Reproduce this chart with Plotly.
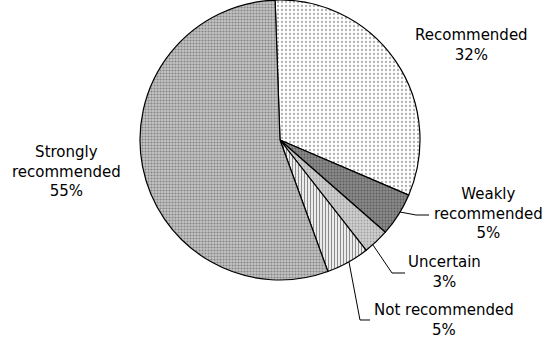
import plotly.graph_objects as go

# ---- data ----
categories = ["Recommended", "Weakly recommended", "Uncertain", "Not recommended", "Strongly recommended"]
values = [32, 5, 3, 5, 55]
label_text = ["Recommended<br>32%", "Weakly<br>recommended<br>5%", "Uncertain<br>3%",
              "Not recommended<br>5%", "Strongly<br>recommended<br>55%"]

# ---- styles ----
W, H = 546, 339
bg_colors = ["#ffffff", "#8a8a8a", "#cfcfcf", "#ffffff", "#c4c4c4"]
fg_colors = ["#b0b0b0", "#5e5e5e", "#a0a0a0", "#8c8c8c", "#858585"]
shapes_pat = [".", ".", ".", "|", "."]
sizes = [4, 3, 3, 3, 3]
solidity = [0.25, 0.35, 0.3, 0.45, 0.4]

def px(x, y):
    return x / W, 1 - y / H

cx, cy, r = 280, 140, 140
dx0, dy0 = px(cx - r, cy + r)
dx1, dy1 = px(cx + r, cy - r)

fig = go.Figure(go.Pie(
    labels=categories,
    values=values,
    sort=False,
    direction="clockwise",
    rotation=-2,
    textinfo="none",
    hoverinfo="label+percent",
    showlegend=False,
    domain=dict(x=[dx0, dx1], y=[dy0, min(dy1, 1.0)]),
    marker=dict(
        colors=bg_colors,
        line=dict(color="#000000", width=1.2),
        pattern=dict(shape=shapes_pat, fgcolor=fg_colors, bgcolor=bg_colors,
                     size=sizes, solidity=solidity, fillmode="replace"),
    ),
))

# label positions (pixel centres of text blocks)
label_pos = [(471, 45.5), (488, 213), (444, 272), (444, 319.5), (66, 171)]
annotations = []
for t, (x, y) in zip(label_text, label_pos):
    ax, ay = px(x, y)
    annotations.append(dict(
        text=t, x=ax, y=ay, xref="paper", yref="paper",
        xanchor="center", yanchor="middle", showarrow=False, align="center",
        font=dict(family="DejaVu Sans, sans-serif", size=15, color="#000000"),
    ))

# leader lines (pixel paths)
leaders = [
    [(400, 212), (416, 215), (429, 215)],
    [(373, 245), (392, 273), (405, 273)],
    [(349, 262), (360, 320), (370, 320)],
]
shapes = []
for pts in leaders:
    p = []
    for i, (x, y) in enumerate(pts):
        X, Y = px(x, y)
        p.append(("M" if i == 0 else "L") + f"{X:.5f},{Y:.5f}")
    shapes.append(dict(type="path", path=" ".join(p), xref="paper", yref="paper",
                       line=dict(color="#000000", width=1)))

fig.update_layout(
    width=W, height=H,
    margin=dict(l=0, r=0, t=0, b=0),
    paper_bgcolor="#ffffff",
    plot_bgcolor="#ffffff",
    annotations=annotations,
    shapes=shapes,
)

fig.write_html("out.html")
